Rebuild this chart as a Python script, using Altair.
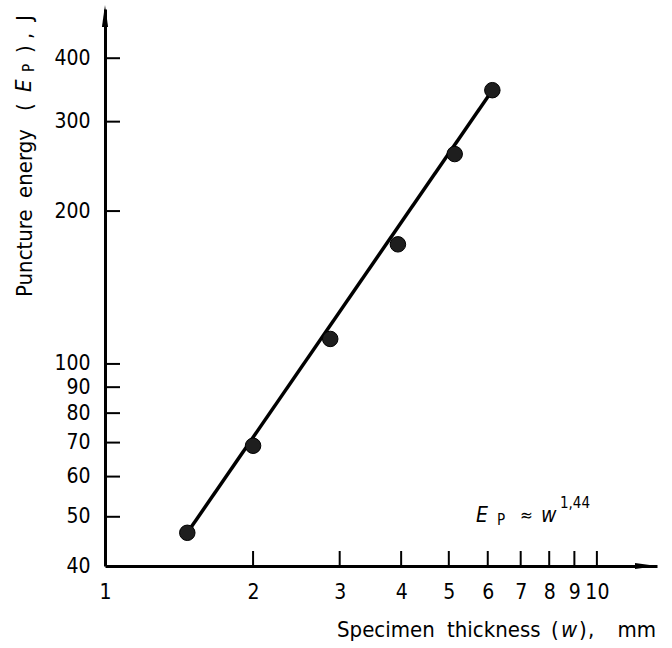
import altair as alt
import pandas as pd

FONT = "DejaVu Sans Condensed, DejaVu Sans"

# Measured puncture energy against specimen thickness
thickness = [1.47, 2.0, 2.87, 3.94, 5.14, 6.13]
energy = [46.5, 69, 112, 172, 259, 346]

# End points of the fitted power-law line
fit_thickness = [1.47, 6.13]
fit_energy = [46.5, 346]

# Axis graduations
x_labels = [1, 2, 3, 4, 5, 6, 7, 8, 9, 10]
y_labels = [40, 50, 60, 70, 80, 90, 100, 200, 300, 400]
x_ticks = [2, 3, 4, 5, 6, 7, 8, 9, 10]
y_ticks = [50, 60, 70, 80, 90, 100, 200, 300, 400]

W, H = 552, 557

x_scale = alt.Scale(type="log", domain=[1, 13.25], nice=False)
y_scale = alt.Scale(type="log", domain=[40, 500], nice=False)

points_df = pd.DataFrame({"w": thickness, "E": energy})
fit_df = pd.DataFrame({"w": fit_thickness, "E": fit_energy})
xt_df = pd.DataFrame({"w": x_ticks})
yt_df = pd.DataFrame({"E": y_ticks})
one = pd.DataFrame({"k": [0]})

x_axis = alt.Axis(
    values=x_labels, format="d", title=None, grid=False,
    ticks=False, tickSize=0, labelPadding=15,
    labelFont=FONT, labelFontSize=21, labelColor="black",
    labelBaseline="top", labelFlush=False, labelOverlap=False,
    domainColor="black", domainWidth=3,
)
y_axis = alt.Axis(
    values=y_labels, format="d", title=None, grid=False,
    ticks=False, tickSize=0, labelPadding=15,
    labelFont=FONT, labelFontSize=21, labelColor="black",
    labelFlush=False, labelOverlap=False,
    domainColor="black", domainWidth=3,
)

X = alt.X("w:Q", scale=x_scale, axis=x_axis)
Y = alt.Y("E:Q", scale=y_scale, axis=y_axis)

# Fitted line
fit = alt.Chart(fit_df).mark_line(color="black", strokeWidth=3.5).encode(x=X, y=Y)

# Data points
pts = alt.Chart(points_df).mark_point(
    shape="circle", filled=True, size=240, fill="#1e1e1e",
    stroke="black", strokeWidth=1, opacity=1,
).encode(x=X, y=Y)

# Inward tick marks
xt = alt.Chart(xt_df).mark_rule(color="black", strokeWidth=2).encode(
    x=X, y=alt.value(H), y2=alt.value(H - 15),
)
yt = alt.Chart(yt_df).mark_rule(color="black", strokeWidth=2).encode(
    y=Y, x=alt.value(0), x2=alt.value(15),
)

# Arrow heads at the axis ends
up_arrow = alt.Chart(one).mark_point(
    shape="M0,-1L0.28,1L-0.28,1Z", size=484, filled=True,
    color="black", opacity=1, strokeWidth=0,
).encode(x=alt.value(0), y=alt.value(7))
right_arrow = alt.Chart(one).mark_point(
    shape="M1,0L-1,0.28L-1,-0.28Z", size=484, filled=True,
    color="black", opacity=1, strokeWidth=0,
).encode(x=alt.value(541), y=alt.value(H))


def text_piece(label, x, y, size=22, italic=False, align="left", angle=0):
    kw = dict(font=FONT, fontSize=size, color="black", align=align,
              baseline="alphabetic", angle=angle)
    if italic:
        kw["fontStyle"] = "italic"
    return alt.Chart(pd.DataFrame({"label": [label]})).mark_text(**kw).encode(
        text="label:N", x=alt.value(x), y=alt.value(y)
    )


# Vertical axis title: Puncture energy (E_P), J  (set piece by piece, wide spacing)
y_title = [
    text_piece("Puncture", -73, 288, angle=270),
    text_piece("energy", -73, 189, angle=270),
    text_piece("(", -73, 102, angle=270),
    text_piece("E", -74, 83, italic=True, angle=270),
    text_piece("P", -71, 63, size=15, angle=270),
    text_piece(")", -73, 44, angle=270),
    text_piece(",", -73, 30, angle=270),
    text_piece("J", -73, 12, angle=270),
]

# Horizontal axis title: Specimen thickness (w), mm
x_title = [
    text_piece("Specimen", 232, 628),
    text_piece("thickness", 342, 628),
    text_piece("(", 446, 628),
    text_piece("w", 456, 628, italic=True),
    text_piece(")", 474, 628),
    text_piece(",", 483, 628),
    text_piece("mm", 551, 628, align="right"),
]

# Power-law relation
formula = [
    text_piece("E", 371, 513, size=21, italic=True),
    text_piece("P", 392, 516, size=15),
    text_piece("\u2248", 415, 512, size=17),
    text_piece("w", 436, 513, size=21, italic=True),
    text_piece("1,44", 455, 499, size=15),
]

chart = alt.layer(
    fit, pts, xt, yt, up_arrow, right_arrow, *y_title, *x_title, *formula
).properties(
    width=W, height=H,
    autosize=alt.AutoSizeParams(type="none"),
    padding={"left": 105, "top": 9, "right": 15, "bottom": 82},
    background="white",
).configure_view(stroke=None)

chart.save("out.html", embed_options={"renderer": "svg", "actions": False})
